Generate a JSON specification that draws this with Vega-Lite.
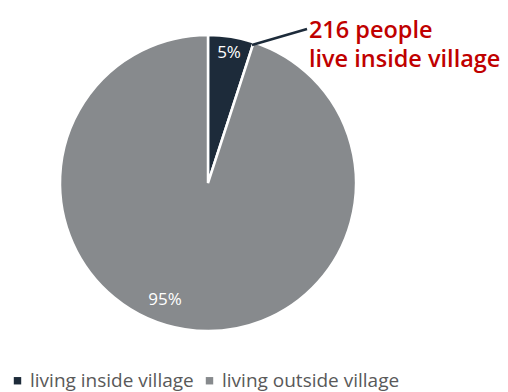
{
  "$schema": "https://vega.github.io/schema/vega-lite/v6.json",
  "width": 416,
  "height": 366,
  "padding": {"left": 0, "top": 0, "right": 92, "bottom": 26},
  "autosize": {"type": "none"},
  "background": "white",
  "config": {"view": {"stroke": null}, "font": "Open Sans"},
  "layer": [
    {
      "data": {"values": [
        {"group": "living inside village", "share": 5, "order": 1},
        {"group": "living outside village", "share": 95, "order": 2}
      ]},
      "mark": {"type": "arc", "outerRadius": 148, "stroke": "white", "strokeWidth": 2.5},
      "encoding": {
        "theta": {"field": "share", "type": "quantitative", "stack": true},
        "order": {"field": "order", "type": "quantitative"},
        "color": {
          "field": "group", "type": "nominal",
          "scale": {"domain": ["living inside village", "living outside village"], "range": ["#1d2b3a", "#878a8d"]},
          "legend": {
            "title": null, "orient": "none", "legendX": 8, "legendY": 371, "direction": "horizontal",
            "symbolType": "square", "symbolSize": 55, "labelFontSize": 19, "labelColor": "#595959",
            "labelFont": "Open Sans", "columnPadding": 6, "symbolStrokeWidth": 0, "labelLimit": 300, "labelOffset": 3
          }
        }
      }
    },
    {
      "data": {"values": [
        {"label": "5%", "x": 0.142, "y": 0.878},
        {"label": "95%", "x": -0.29, "y": -0.79}
      ]},
      "mark": {"type": "text", "color": "white", "fontSize": 17, "align": "center", "baseline": "middle"},
      "encoding": {
        "x": {"field": "x", "type": "quantitative", "scale": {"domain": [-1.4054, 1.4054]}, "axis": null},
        "y": {"field": "y", "type": "quantitative", "scale": {"domain": [-1.2365, 1.2365]}, "axis": null},
        "text": {"field": "label"}
      }
    },
    {
      "data": {"values": [
        {"x": 0.297, "y": 0.932},
        {"x": 0.669, "y": 1.041}
      ]},
      "mark": {"type": "line", "color": "#1d2b3a", "strokeWidth": 2.5},
      "encoding": {
        "x": {"field": "x", "type": "quantitative", "scale": {"domain": [-1.4054, 1.4054]}, "axis": null},
        "y": {"field": "y", "type": "quantitative", "scale": {"domain": [-1.2365, 1.2365]}, "axis": null}
      }
    },
    {
      "data": {"values": [
        {"label": "216 people", "x": 0.682, "y": 1.03},
        {"label": "live inside village", "x": 0.682, "y": 0.832}
      ]},
      "mark": {"type": "text", "color": "#c00000", "fontSize": 23.5, "fontWeight": 600, "align": "left", "baseline": "middle", "clip": false},
      "encoding": {
        "x": {"field": "x", "type": "quantitative", "scale": {"domain": [-1.4054, 1.4054]}, "axis": null},
        "y": {"field": "y", "type": "quantitative", "scale": {"domain": [-1.2365, 1.2365]}, "axis": null},
        "text": {"field": "label"}
      }
    }
  ]
}
